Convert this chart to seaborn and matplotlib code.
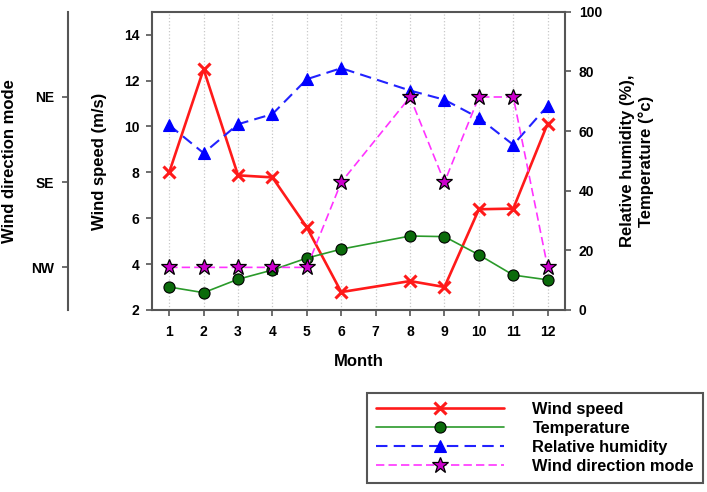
import matplotlib
matplotlib.use('Agg')
import matplotlib.pyplot as plt
import seaborn as sns
import pandas as pd

# monthly values (no data for month 7)
months = [1, 2, 3, 4, 5, 6, 8, 9, 10, 11, 12]
wind_speed = [8.0, 12.5, 7.87, 7.78, 5.6, 2.78, 3.26, 3.0, 6.39, 6.42, 10.13]
temperature = [7.7, 5.8, 10.3, 13.4, 17.4, 20.4, 24.8, 24.6, 18.5, 11.7, 10.1]
humidity = [62.0, 52.6, 62.3, 65.7, 77.4, 81.1, 73.6, 70.5, 64.4, 55.4, 68.5]
wind_dir = ['NW', 'NW', 'NW', 'NW', 'NW', 'SE', 'NE', 'SE', 'NE', 'NE', 'NW']
dir_levels = ['NW', 'SE', 'NE']
month_ticks = list(range(1, 13))

df = pd.DataFrame({'month': months, 'wind_speed': wind_speed,
                   'temperature': temperature, 'humidity': humidity,
                   'wind_dir': [dir_levels.index(d) + 1 for d in wind_dir]})

sns.set_style('ticks')
plt.rcParams['font.family'] = ['Liberation Sans', 'DejaVu Sans']
plt.rcParams['font.weight'] = 'bold'
plt.rcParams['axes.labelweight'] = 'bold'
plt.rcParams['text.color'] = 'black'
plt.rcParams['axes.labelcolor'] = 'black'
plt.rcParams['xtick.labelcolor'] = 'black'
plt.rcParams['ytick.labelcolor'] = 'black'

spine_col = '#555555'
fig = plt.figure(figsize=(7.07, 4.92), dpi=100)
ax = fig.add_axes([0.215, 0.370, 0.584, 0.606])
ax2 = ax.twinx()
ax3 = ax.twinx()

sns.lineplot(data=df, x='month', y='wind_speed', ax=ax, color='#ff1a1a', lw=1.9,
             marker='x', ms=9, mew=2.2, mec='#ff1a1a', label='Wind speed', legend=False)
sns.lineplot(data=df, x='month', y='temperature', ax=ax2, color='#2a9a2a', lw=1.2,
             marker='o', ms=8, mfc='#0b6b0b', mec='black', mew=0.8,
             label='Temperature', legend=False)
sns.lineplot(data=df, x='month', y='humidity', ax=ax2, color='#2222ff', lw=1.5,
             linestyle=(0, (5.5, 3)), marker='^', ms=9, mfc='#0000ff', mec='#0000ff',
             mew=0.8, label='Relative humidity', legend=False)
sns.lineplot(data=df, x='month', y='wind_dir', ax=ax3, color='#ff33ff', lw=1.2,
             linestyle=(0, (5, 2.5)), marker='*', ms=12, mfc='#cc00cc', mec='black',
             mew=0.9, label='Wind direction mode', legend=False)

# main axis
ax.set_xlim(0.5, 12.5)
ax.set_xticks(month_ticks)
ax.set_ylim(2, 15)
ax.set_yticks([2, 4, 6, 8, 10, 12, 14])
ax.grid(axis='x', ls=':', color='#c8c8c8', lw=0.9)
ax.set_xlabel('Month', fontsize=12)
ax.set_ylabel('Wind speed (m/s)', fontsize=12)
ax.xaxis.set_label_coords(0.5, -0.147)
ax.yaxis.set_label_coords(-0.109, 0.5)
ax.tick_params(labelsize=10, length=4, width=1.2, color=spine_col, pad=5)
ax.tick_params(axis='x', pad=7)
ax.spines['right'].set_visible(False)

# right axis
ax2.set_ylim(0, 100)
ax2.set_yticks([0, 20, 40, 60, 80, 100])
ax2.set_ylabel('Relative humidity (%),\nTemperature (\u00b0c)', fontsize=12,
               multialignment='center', linespacing=1.25)
ax2.yaxis.set_label_coords(1.133, 0.5)
ax2.tick_params(labelsize=10, length=4, width=1.2, color=spine_col, pad=6)
for s in ['left', 'top', 'bottom']:
    ax2.spines[s].set_visible(False)

# wind direction axis, offset to the left
ax3.set_ylim(0.5, 4.0)
ax3.set_yticks([1, 2, 3])
ax3.set_yticklabels(dir_levels)
ax3.yaxis.set_ticks_position('left')
ax3.yaxis.set_label_position('left')
ax3.spines['left'].set_position(('outward', 60.5))
for s in ['right', 'top', 'bottom']:
    ax3.spines[s].set_visible(False)
ax3.spines['left'].set_visible(True)
ax3.set_ylabel('Wind direction mode', fontsize=12)
ax3.yaxis.set_label_coords(-0.327, 0.5)
ax3.tick_params(labelsize=10, length=4, width=1.2, color=spine_col, pad=6)

for a in (ax, ax2, ax3):
    for s in a.spines.values():
        s.set_color(spine_col)
        s.set_linewidth(1.5)

handles, labels = [], []
for a in (ax, ax2, ax3):
    h, l = a.get_legend_handles_labels()
    handles += h
    labels += l
leg = fig.legend(handles, labels, loc='upper left', bbox_to_anchor=(0.519, 0.201),
                 borderaxespad=0, fontsize=11.8, numpoints=1, handlelength=7.8,
                 handletextpad=1.75, labelspacing=0.24, fancybox=False,
                 edgecolor=spine_col, framealpha=1, borderpad=0.55)
leg.get_frame().set_linewidth(1.5)

fig.savefig('out.png', dpi=100)
